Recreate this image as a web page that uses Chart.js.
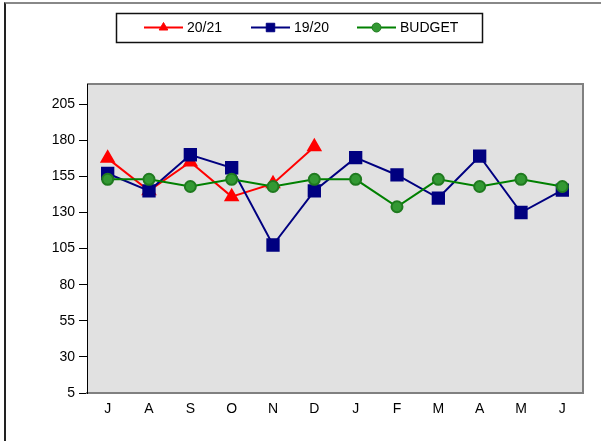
<!DOCTYPE html>
<html>
<head>
<meta charset="utf-8">
<script src="https://cdn.jsdelivr.net/npm/chart.js@4"></script>
<style>
  html, body { margin: 0; padding: 0; background: #fff; }
  #wrap { position: relative; width: 601px; height: 441px; }
  #frame { position: absolute; left: 4px; top: 2px; width: 597px; height: 439px;
           border-top: 2px solid #888; border-left: 2px solid #222; box-sizing: border-box; }
  canvas { position: absolute; left: 0; top: 0; }
</style>
</head>
<body>
<div id="wrap">
  <div id="frame"></div>
  <canvas id="myChart" width="601" height="441"></canvas>
</div>
<script>
// months, July to June
var months = ['J', 'A', 'S', 'O', 'N', 'D', 'J', 'F', 'M', 'A', 'M', 'J'];
var season2021 = [167.5, 145, 165, 141, 150, 175.5, null, null, null, null, null, null];
var season1920 = [157, 145, 170, 161, 107.5, 145, 168, 156, 140, 169, 130, 145.5];
var budget = [153, 153, 148, 153, 148, 153, 153, 134, 153, 148, 153, 148];
var yTicks = [5, 30, 55, 80, 105, 130, 155, 180, 205];

var FONT = 'Arial, "Liberation Sans", sans-serif';

// grey plot area with a shaded top/right edge
var plotBg = {
    id: 'plotBg',
    beforeDraw: function(chart) {
        var a = chart.chartArea, c = chart.ctx;
        c.save();
        c.fillStyle = '#e1e1e1';
        c.fillRect(a.left, a.top, a.right - a.left, a.bottom - a.top);
        c.strokeStyle = '#808080';
        c.lineWidth = 2;
        c.beginPath();
        c.moveTo(a.left, a.top);
        c.lineTo(a.right, a.top);
        c.lineTo(a.right, a.bottom);
        c.stroke();
        c.restore();
    }
};

// boxed legend with line + marker samples
var boxLegend = {
    id: 'boxLegend',
    afterDraw: function(chart) {
        var c = chart.ctx;
        c.save();
        c.strokeStyle = '#111';
        c.lineWidth = 1.5;
        c.strokeRect(116.5, 13.5, 366, 29);
        var xs = [144, 251, 357];
        var y = 27.5;
        chart.data.datasets.forEach(function(ds, i) {
            var x = xs[i];
            c.strokeStyle = ds.borderColor;
            c.lineWidth = 2;
            c.beginPath();
            c.moveTo(x, y);
            c.lineTo(x + 39, y);
            c.stroke();
            c.fillStyle = ds.pointBackgroundColor;
            c.strokeStyle = ds.pointBorderColor;
            c.lineWidth = 1;
            Chart.helpers.drawPoint(c, {pointStyle: ds.pointStyle, radius: ds.legendRadius, borderWidth: 1}, x + 19.5, y);
            c.fillStyle = '#000';
            c.font = '14px ' + FONT;
            c.textBaseline = 'middle';
            c.fillText(ds.label, x + 43, y + 1);
        });
        c.restore();
    }
};

function main() {
    var ctx = document.getElementById('myChart').getContext('2d');
    new Chart(ctx, {
        type: 'line',
        data: {
            labels: months,
            datasets: [{
                label: '20/21',
                data: season2021,
                borderColor: '#ff0000',
                pointBackgroundColor: '#ff0000',
                pointBorderColor: '#ff0000',
                pointStyle: 'triangle',
                pointRadius: 7,
                legendRadius: 5,
                borderWidth: 2,
                order: 2
            }, {
                label: '19/20',
                data: season1920,
                borderColor: '#000080',
                pointBackgroundColor: '#000080',
                pointBorderColor: '#000080',
                pointStyle: 'rect',
                pointRadius: 8,
                legendRadius: 6,
                borderWidth: 2,
                order: 1
            }, {
                label: 'BUDGET',
                data: budget,
                borderColor: '#008000',
                pointBackgroundColor: '#339933',
                pointBorderColor: '#1f7a1f',
                pointStyle: 'circle',
                pointRadius: 5.5,
                legendRadius: 4.5,
                borderWidth: 2,
                order: 0
            }]
        },
        options: {
            responsive: false,
            animation: false,
            spanGaps: false,
            layout: { padding: { left: 0, top: 84, right: 18, bottom: 0 } },
            plugins: {
                legend: { display: false },
                tooltip: { enabled: false }
            },
            elements: {
                line: { tension: 0 },
                point: { borderWidth: 1 }
            },
            scales: {
                x: {
                    offset: true,
                    grid: { display: false, drawTicks: false },
                    border: { display: true, color: '#808080', width: 2 },
                    ticks: { color: '#000', font: { family: FONT, size: 14 }, padding: 8, maxRotation: 0 },
                    afterFit: function(s) { s.height = 48; }
                },
                y: {
                    min: 5,
                    max: 219,
                    grid: { display: true, drawOnChartArea: false, drawTicks: true, tickLength: 8, color: '#000' },
                    border: { display: true, color: '#000', width: 1 },
                    ticks: { color: '#000', font: { family: FONT, size: 14 }, padding: 4 },
                    afterBuildTicks: function(s) {
                        s.ticks = yTicks.map(function(v) { return { value: v }; });
                    },
                    afterFit: function(s) { s.width = 87; }
                }
            }
        },
        plugins: [plotBg, boxLegend]
    });
}

document.addEventListener("DOMContentLoaded", function(event) {
    main();
});
</script>
</body>
</html>
